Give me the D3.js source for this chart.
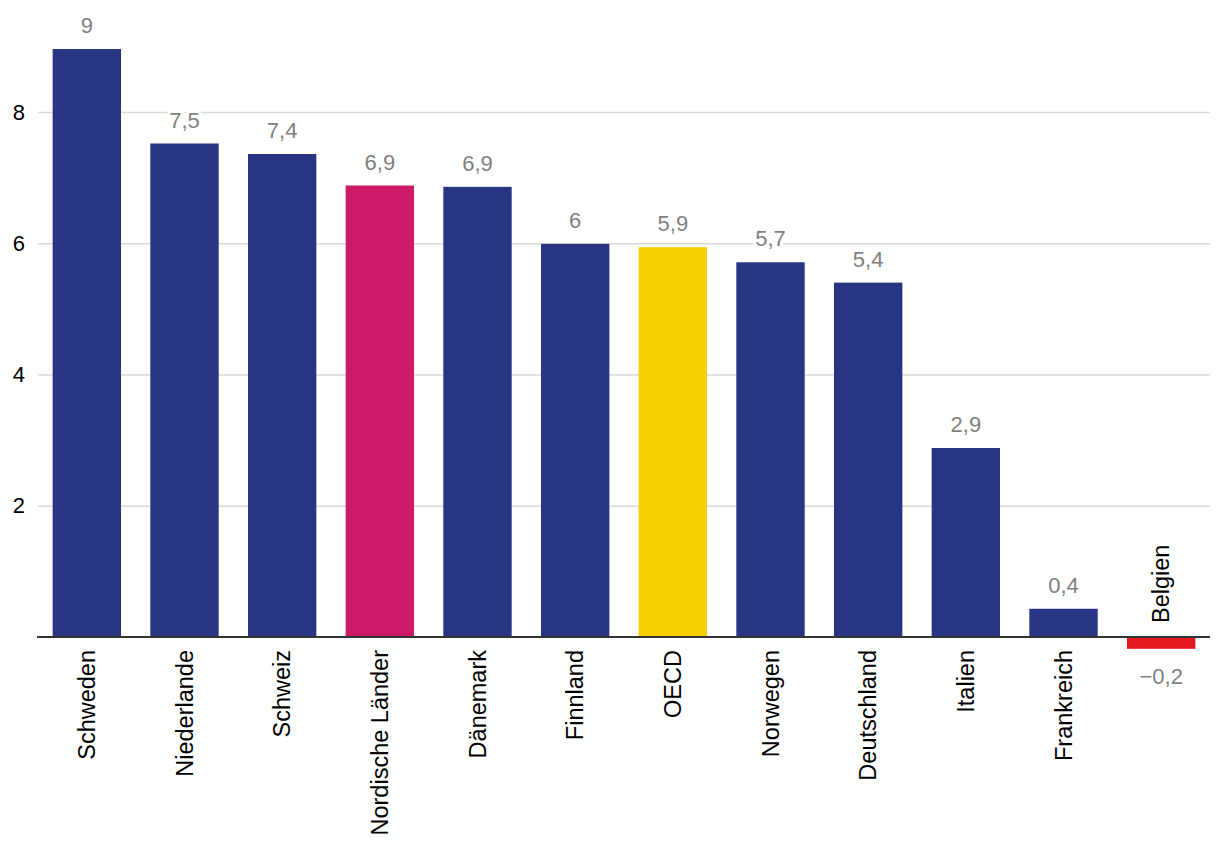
<!DOCTYPE html>
<html><head><meta charset="utf-8">
<script src="https://cdn.jsdelivr.net/npm/d3@7"></script>
<style>body{margin:0;background:#fff}svg{display:block}text{font-family:"Liberation Sans",Arial,sans-serif}</style>
</head><body><svg id="c" width="1220" height="864"></svg>
<script>
const categories = ["Schweden","Niederlande","Schweiz","Nordische Länder","Dänemark","Finnland","OECD","Norwegen","Deutschland","Italien","Frankreich","Belgien"];
const values = [8.96,7.52,7.36,6.88,6.86,5.99,5.94,5.71,5.4,2.88,0.43,-0.18];
const barColors = ["#283583","#283583","#283583","#cc1a66","#283583","#283583","#f5d000","#283583","#283583","#283583","#283583","#e3191e"];
const yTicks = [2,4,6,8];

const svg = d3.select("#c");
const x = d3.scaleBand().domain(categories).range([38,1210]).paddingInner(0.3).paddingOuter(0.15);
const y = d3.scaleLinear().domain([0,8]).range([637,112]);
const loc = d3.formatLocale({decimal:",",thousands:".",grouping:[3],currency:["","€"],minus:"\u2212"});
const fmt = loc.format(".1~f");

// grid
const yAxis = d3.axisLeft(y).tickValues(yTicks).tickSize(-(1210-38)).tickFormat(d=>d);
const ga = svg.append("g").attr("transform","translate(38,0)").call(yAxis);
ga.select(".domain").remove();
ga.selectAll(".tick line").attr("stroke","#d9d9d9").attr("stroke-width",1.5);
ga.selectAll(".tick text").attr("x",-13).attr("fill","#000").style("font-size","22px").attr("font-family","Liberation Sans, Arial, sans-serif");

const data = categories.map((c,i)=>({c,v:values[i],col:barColors[i]}));
svg.append("g").selectAll("rect").data(data).join("rect")
  .attr("x",d=>x(d.c)).attr("width",x.bandwidth())
  .attr("y",d=>y(Math.max(0,d.v))).attr("height",d=>Math.abs(y(d.v)-y(0)))
  .attr("fill",d=>d.col);

// baseline
svg.append("line").attr("x1",37).attr("x2",1210).attr("y1",y(0)).attr("y2",y(0)).attr("stroke","#333").attr("stroke-width",2);

// value labels
svg.append("g").selectAll("text").data(data).join("text")
  .attr("x",d=>x(d.c)+x.bandwidth()/2)
  .attr("y",d=>d.v>=0 ? y(d.v)-16 : y(d.v)+35)
  .attr("text-anchor","middle").attr("fill","#7f7f7f").style("font-size","22px")
  .attr("stroke","#fff").attr("stroke-width",6).attr("paint-order","stroke").attr("stroke-linejoin","round")
  .text(d=>fmt(d.v));

// category labels
svg.append("g").selectAll("text").data(data).join("text")
  .attr("transform",d=>{const cx=x(d.c)+x.bandwidth()/2; const yy=d.v>=0? y(0)+13 : y(0)-14; return `translate(${cx},${yy}) rotate(-90)`;})
  .attr("text-anchor",d=>d.v>=0?"end":"start").attr("dy","0.35em")
  .attr("fill","#000").style("font-size","23.5px")
  .text(d=>d.c);
</script></body></html>
